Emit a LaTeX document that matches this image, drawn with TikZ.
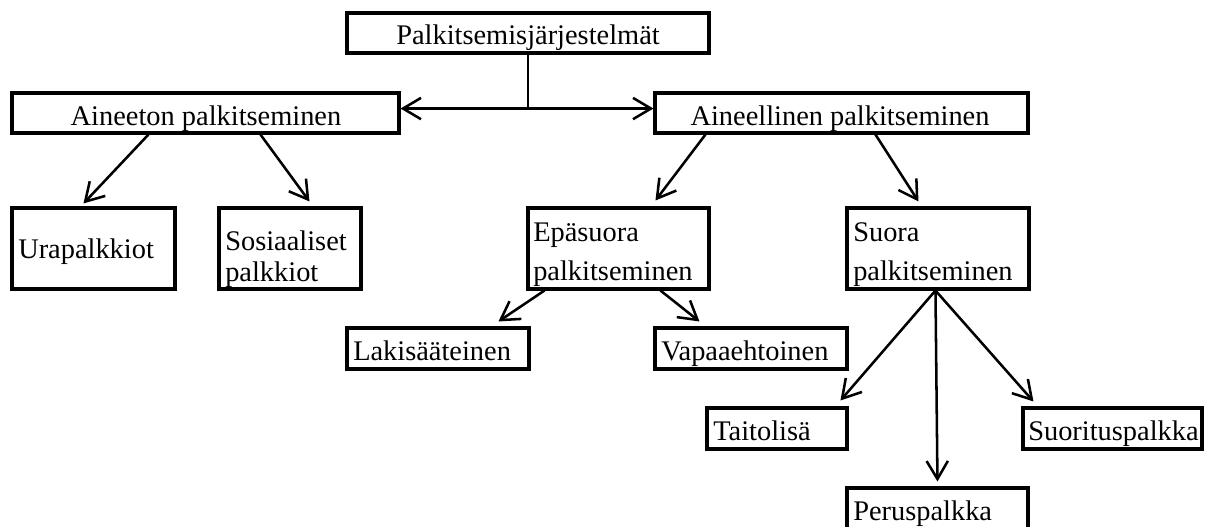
\documentclass[tikz,border=0pt]{standalone}
\usepackage{fontspec}
\setmainfont{Liberation Serif}
\usetikzlibrary{arrows.meta,calc,fit}
\begin{document}
\begin{tikzpicture}[x=0.75pt,y=-0.75pt,
  box/.style={draw,line width=2.3pt,inner sep=0pt},
  txt/.style={inner sep=0pt,font=\fontsize{21.3pt}{25pt}\selectfont},
  arr/.style={line width=1.9pt,-{Straight Barb[length=13.5pt,width=16pt,line width=1.9pt]}}]
\useasboundingbox (0,0) rectangle (1210,526);
\clip (0,0) rectangle (1210,526);
% boxes
\node[box,fit={(347,13) (709,53)}] (top) {};
\node[box,fit={(12,93) (399,133)}] (aineeton) {};
\node[box,fit={(655,93) (1028,133)}] (aineell) {};
\node[box,fit={(12,208) (175,289)}] (ura) {};
\node[box,fit={(219,208) (361,289)}] (sos) {};
\node[box,fit={(528,208) (709,289)}] (epa) {};
\node[box,fit={(847,208) (1029,289)}] (suora) {};
\node[box,fit={(347,328) (529,369)}] (laki) {};
\node[box,fit={(655,328) (847,369)}] (vapaa) {};
\node[box,fit={(707,408) (847,449)}] (taito) {};
\node[box,fit={(1023,408) (1202,449)}] (suor) {};
\node[box,fit={(847,488) (1028,545)}] (perus) {};
% texts
\node[txt,anchor=base] (ttop) at (528,44) {Palkitsemisjärjestelmät};
\node[txt,anchor=base] (taineeton) at (206,125) {Aineeton palkitseminen};
\node[txt,anchor=base] (taineell) at (840,125) {Aineellinen palkitseminen};
\node[txt,anchor=base west] (tura) at (18,258) {Urapalkkiot};
\node[txt,anchor=base west] (tsos1) at (225,250) {Sosiaaliset};
\node[txt,anchor=base west] (tsos2) at (225,281) {palkkiot};
\node[txt,anchor=base west] (tepa1) at (533,241) {Epäsuora};
\node[txt,anchor=base west] (tepa2) at (533,280) {palkitseminen};
\node[txt,anchor=base west] (tsuora1) at (853,241) {Suora};
\node[txt,anchor=base west] (tsuora2) at (853,280) {palkitseminen};
\node[txt,anchor=base west] (tlaki) at (353,360) {Lakisääteinen};
\node[txt,anchor=base west] (tvapaa) at (661,360) {Vapaaehtoinen};
\node[txt,anchor=base west] (ttaito) at (713,440) {Taitolisä};
\node[txt,anchor=base west] (tsuor) at (1028,440) {Suorituspalkka};
\node[txt,anchor=base west] (tperus) at (853,520) {Peruspalkka};
% connectors
\coordinate (J) at ($(top.south)+(0,54)$);
\draw[line width=1.9pt] (top.south) -- (J);
\draw[arr] (J) -- (J -| aineeton.east);
\draw[arr] (J) -- (J -| aineell.west);
\draw[arr] ($(aineeton.south west)+(138,0)$) -- ($(ura.north west)+(73,-3)$);
\draw[arr] ($(aineeton.south west)+(250,0)$) -- ($(sos.north west)+(92,-5)$);
\draw[arr] ($(aineell.south west)+(52,0)$) -- ($(epa.north west)+(129,-6)$);
\draw[arr] ($(aineell.south west)+(222,0)$) -- ($(suora.north west)+(73,-5)$);
\draw[arr] ($(epa.south west)+(18,0)$) -- ($(laki.north west)+(153,-5)$);
\draw[arr] ($(epa.south west)+(134,0)$) -- ($(vapaa.north west)+(46,-5)$);
\draw[arr] ($(suora.south west)+(90,0)$) -- ($(taito.north west)+(135,-6)$);
\draw[arr] ($(suora.south west)+(90,0)$) -- ($(perus.north west)+(92,-5)$);
\draw[arr] ($(suora.south west)+(90,0)$) -- ($(suor.north west)+(12,-5)$);
\end{tikzpicture}
\end{document}
